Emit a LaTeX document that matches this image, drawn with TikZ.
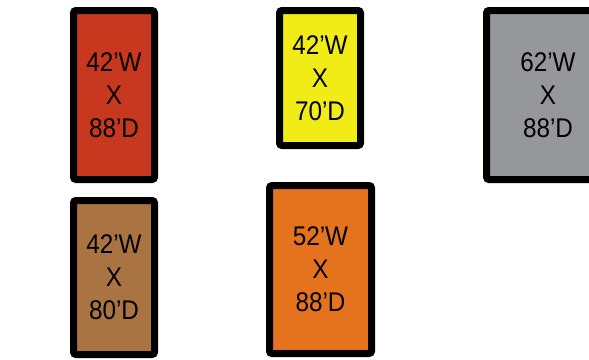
\documentclass[tikz,border=0pt]{standalone}
\usepackage{fontspec}
\setmainfont{Liberation Sans}[FakeStretch=0.9]

\definecolor{padred}{RGB}{200,56,30}
\definecolor{padyellow}{RGB}{241,236,22}
\definecolor{padgray}{RGB}{150,151,155}
\definecolor{padbrown}{RGB}{170,115,66}
\definecolor{padorange}{RGB}{229,115,30}

\begin{document}
\begin{tikzpicture}[x=1pt, y=-1pt,
    pad/.style={draw=black, line width=7pt, rounded corners=2.5pt,
        align=center, inner sep=0pt,
        font=\fontsize{27}{33}\selectfont}]
    % 画布
    \useasboundingbox (0,0) rectangle (589,359);

    % 第一排
    \node[pad, fill=padred, minimum width=81pt, minimum height=169pt]
        (red) at (114,95) {42’W\\X\\88’D};
    \node[pad, fill=padyellow, minimum width=81pt, minimum height=135pt]
        (yellow) at (320,78) {42’W\\X\\70’D};
    \node[pad, fill=padgray, minimum width=123pt, minimum height=169pt]
        (gray) at (548,95) {62’W\\X\\88’D};

    % 第二排
    \node[pad, fill=padbrown, minimum width=81pt, minimum height=154pt]
        (brown) at (114,277.5) {42’W\\X\\80’D};
    \node[pad, fill=padorange, minimum width=102pt, minimum height=168pt]
        (orange) at (320.5,269.5) {52’W\\X\\88’D};
\end{tikzpicture}
\end{document}
